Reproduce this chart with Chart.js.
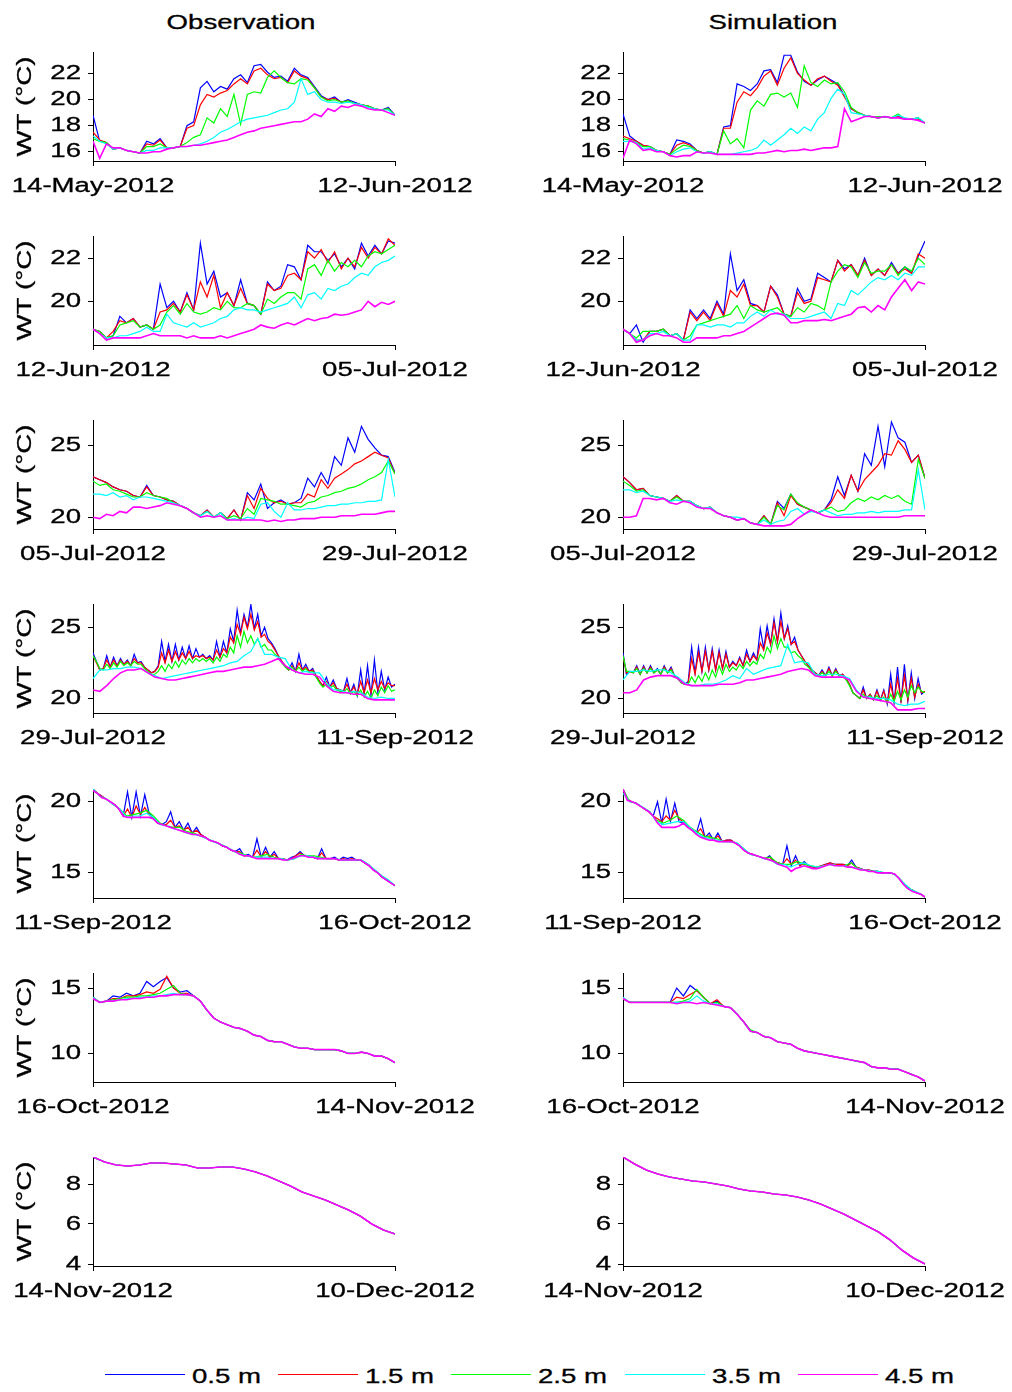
<!DOCTYPE html>
<html>
<head>
<meta charset="utf-8">
<script src="https://cdn.jsdelivr.net/npm/chart.js@4.4.1/dist/chart.umd.min.js"></script>
<style>
  body { margin: 0; background: #fff; }
  #page { position: relative; width: 1012px; height: 1392px; overflow: hidden; background: #fff;
          font-family: "Liberation Sans", Arial, sans-serif; }
  #page canvas { position: absolute; }
  .title { position: absolute; font-size: 20px; line-height: 20px; white-space: nowrap; color: #000;
           -webkit-text-stroke: 0.3px #000; transform: translate(-50%, -50%) scaleX(1.38); }
  .legline { position: absolute; height: 1px; width: 80px; }
  .legtxt { position: absolute; font-size: 20px; line-height: 20px; white-space: nowrap; color: #000;
            -webkit-text-stroke: 0.3px #000; transform-origin: 0 50%; transform: translateY(-50%) scaleX(1.38); }
</style>
</head>
<body>
<div id="page">
  <div class="title" style="left:241px;top:22px">Observation</div>
  <div class="title" style="left:773px;top:22px">Simulation</div>
</div>
<script>
const depths = ["0.5 m", "1.5 m", "2.5 m", "3.5 m", "4.5 m"];
const depthColors = ["#0000ff", "#ff0000", "#00ff00", "#00ffff", "#ff00ff"];

// x tick labels (first / last day of each row) and length of each period in days
const startDates = ["14-May-2012", "12-Jun-2012", "05-Jul-2012", "29-Jul-2012", "11-Sep-2012", "16-Oct-2012", "14-Nov-2012"];
const endDates = ["12-Jun-2012", "05-Jul-2012", "29-Jul-2012", "11-Sep-2012", "16-Oct-2012", "14-Nov-2012", "10-Dec-2012"];
const spanDays = [29, 23, 24, 44, 35, 29, 26];

// y ticks and ranges of each row
const yTicks = [[16, 18, 20, 22], [20, 22], [20, 25], [20, 25], [15, 20], [10, 15], [4, 6, 8]];
const yMin = [15.29, 17.97, 19.18, 18.98, 13.23, 7.82, 3.9];
const yMax = [23.65, 23.03, 26.74, 26.63, 20.9, 16.15, 9.35];

// water temperature, evenly spaced over each period; order 0.5, 1.5, 2.5, 3.5, 4.5 m
const obsMayJun = [
  [18.8,16.8,16.7,16.2,16.3,16.1,16.0,15.9,16.8,16.6,17.0,16.3,16.3,16.4,18.0,18.3,20.9,21.4,20.6,21.0,20.8,21.6,21.9,21.3,22.6,22.7,22.1,21.7,21.8,21.4,22.4,21.9,21.7,21.0,20.3,20.0,20.2,19.8,20.0,19.8,19.6,19.5,19.3,19.2,19.4,18.8],
  [17.5,16.9,16.7,16.2,16.3,16.1,16.0,15.9,16.6,16.5,16.9,16.3,16.3,16.4,17.8,18.0,19.6,20.4,20.2,20.5,20.7,21.2,21.6,21.2,22.2,22.4,21.9,21.6,21.7,21.3,22.2,21.8,21.6,20.9,20.2,20.0,20.1,19.8,19.9,19.7,19.6,19.5,19.3,19.2,19.3,18.8],
  [17.0,16.8,16.7,16.2,16.3,16.1,16.0,15.9,16.4,16.4,16.6,16.3,16.3,16.4,16.7,17.1,17.3,18.6,18.2,19.3,18.7,20.4,18.1,20.4,20.6,20.5,21.7,22.2,21.7,21.3,21.2,21.6,21.5,20.9,20.2,19.9,20.0,19.8,19.9,19.7,19.6,19.5,19.3,19.2,19.3,18.8],
  [17.2,16.8,16.6,16.2,16.3,16.1,16.0,15.9,16.1,16.1,16.3,16.3,16.3,16.4,16.4,16.5,16.6,16.8,17.1,17.5,17.7,18.0,18.3,18.5,18.6,18.7,18.8,19.0,19.2,19.3,19.8,21.6,20.4,20.6,20.0,19.8,19.8,19.7,19.8,19.7,19.6,19.4,19.3,19.2,19.2,18.8],
  [16.8,15.5,16.6,16.3,16.3,16.1,16.0,15.9,15.9,16.0,16.0,16.2,16.3,16.4,16.4,16.5,16.5,16.6,16.7,16.8,16.9,17.1,17.3,17.5,17.6,17.8,17.9,18.0,18.1,18.2,18.3,18.3,18.5,18.9,18.7,19.3,19.1,19.5,19.4,19.6,19.5,19.3,19.2,19.2,19.0,18.8]
];
const simMayJun = [
  [18.9,17.2,16.8,16.5,16.4,16.1,16.0,15.8,16.9,16.8,16.6,16.1,15.9,16.0,15.8,17.9,18.0,21.2,21.0,20.7,21.2,22.2,22.3,21.3,23.4,23.4,22.1,21.4,21.1,21.5,21.8,21.5,21.2,20.3,19.3,19.0,18.8,18.7,18.6,18.7,18.6,18.8,18.5,18.5,18.6,18.2],
  [17.2,17.0,16.8,16.5,16.4,16.1,16.0,15.8,16.5,16.7,16.5,16.1,15.9,16.0,15.8,17.8,17.8,19.8,20.6,20.3,20.9,21.8,22.2,21.1,22.4,23.2,22.0,21.5,21.1,21.6,21.8,21.4,21.1,20.2,19.3,19.0,18.8,18.7,18.6,18.7,18.6,18.7,18.5,18.5,18.5,18.2],
  [17.0,16.9,16.7,16.4,16.4,16.1,16.0,15.8,16.2,16.5,16.4,16.1,15.9,16.0,15.8,17.6,16.6,17.0,16.3,19.2,19.9,19.5,20.4,20.5,20.2,20.5,19.4,22.6,21.3,21.0,21.5,21.2,21.3,20.6,19.4,19.0,18.8,18.7,18.7,18.7,18.6,18.9,18.5,18.5,18.6,18.2],
  [16.8,16.8,16.7,16.2,16.3,16.1,16.0,15.7,16.0,16.2,16.3,16.0,15.9,16.0,15.8,15.8,15.8,15.9,16.0,16.1,16.3,16.9,16.5,16.9,17.3,17.8,17.4,17.9,17.6,18.5,19.0,20.1,20.8,20.4,19.0,18.9,18.8,18.7,18.6,18.7,18.6,18.8,18.6,18.5,18.6,18.2],
  [15.5,16.9,16.6,16.1,16.2,16.0,16.0,15.7,15.6,15.7,15.7,16.0,15.9,15.9,15.8,15.8,15.8,15.8,15.8,15.8,15.9,15.9,16.0,16.1,16.0,16.1,16.1,16.2,16.1,16.2,16.3,16.3,16.4,19.3,18.3,18.5,18.7,18.7,18.6,18.7,18.6,18.6,18.5,18.5,18.4,18.2]
];

const obsJunJul = [
  [18.7,18.6,18.3,18.4,19.3,19.0,19.2,18.8,18.9,18.7,20.8,19.7,20.0,19.5,20.4,19.6,22.7,20.8,21.4,20.2,20.4,19.8,21.0,19.9,19.8,19.4,20.9,20.5,20.7,21.7,21.6,21.0,22.6,22.3,22.3,21.9,22.2,21.6,22.0,21.5,22.7,22.1,22.6,22.2,22.8,22.7],
  [18.7,18.6,18.3,18.6,19.1,19.0,19.2,18.8,18.9,18.7,19.5,19.6,19.9,19.5,20.3,19.6,20.9,20.2,21.2,19.7,20.4,19.8,20.6,19.9,19.8,19.4,20.8,20.5,20.6,21.2,21.3,21.0,22.3,22.0,22.4,21.8,22.3,21.5,22.0,21.6,22.5,22.0,22.5,22.2,22.9,22.6],
  [18.7,18.6,18.3,18.4,18.9,19.0,19.1,18.8,18.9,18.7,18.9,19.5,19.8,19.4,19.9,19.5,19.4,19.5,19.7,19.6,20.0,19.7,19.7,19.9,19.8,19.4,20.1,19.9,20.2,20.4,20.4,20.1,21.5,21.7,21.2,21.9,21.4,21.8,21.6,21.9,21.6,22.1,22.3,22.2,22.4,22.6],
  [18.7,18.5,18.3,18.3,18.4,18.4,18.5,18.6,18.8,18.6,18.6,19.4,19.0,18.9,18.8,19.0,18.8,18.9,19.0,19.2,19.3,19.6,19.7,19.6,19.6,19.5,19.6,19.7,19.8,19.9,20.2,19.7,20.3,20.4,20.1,20.6,20.5,20.7,20.8,21.1,21.3,21.2,21.6,21.8,21.9,22.1],
  [18.7,18.5,18.2,18.3,18.3,18.3,18.3,18.3,18.4,18.5,18.4,18.4,18.4,18.4,18.3,18.4,18.3,18.3,18.3,18.4,18.3,18.4,18.5,18.6,18.7,18.9,18.8,18.75,18.9,19.0,18.9,19.05,19.2,19.1,19.2,19.25,19.4,19.35,19.4,19.5,19.6,20.0,19.75,19.95,19.85,20.0]
];
const simJunJul = [
  [18.7,18.5,18.9,18.1,18.6,18.6,18.7,18.4,18.5,18.2,19.6,19.2,19.6,19.2,20.0,19.4,22.2,20.5,21.0,19.9,19.8,19.5,20.7,20.3,19.4,19.3,20.6,20.0,20.1,21.3,21.1,20.9,21.9,21.5,21.7,21.2,22.0,21.2,21.5,21.2,21.8,21.3,21.6,21.3,22.1,22.8],
  [18.7,18.5,18.2,18.2,18.6,18.6,18.7,18.4,18.5,18.2,19.5,19.1,19.5,19.1,19.9,19.3,20.5,20.2,20.8,19.8,19.8,19.5,20.7,20.2,19.4,19.3,20.4,19.9,20.0,21.1,21.0,20.9,21.9,21.4,21.7,21.2,21.9,21.2,21.5,21.2,21.7,21.3,21.5,21.3,22.2,22.0],
  [18.7,18.5,18.3,18.6,18.6,18.6,18.7,18.4,18.5,18.2,18.4,18.9,19.0,19.1,19.2,19.3,19.4,19.8,19.2,19.8,19.6,19.5,19.6,19.7,19.4,19.3,19.7,19.5,19.9,19.8,19.6,20.9,21.4,21.7,21.6,21.1,21.8,21.3,21.4,21.4,21.7,21.2,21.6,21.4,22.0,21.7],
  [18.7,18.5,18.2,18.2,18.5,18.5,18.6,18.4,18.5,18.2,18.2,18.9,18.9,18.8,18.9,18.9,18.8,19.0,19.0,19.3,19.5,19.3,19.6,19.4,19.4,19.2,19.2,19.2,19.3,19.4,19.5,19.2,19.9,19.8,20.5,20.3,20.6,20.9,21.1,21.0,21.2,21.0,21.3,21.2,21.6,21.6],
  [18.7,18.5,18.1,18.2,18.4,18.5,18.4,18.4,18.3,18.1,18.1,18.3,18.3,18.3,18.3,18.4,18.4,18.5,18.6,18.8,19.0,19.2,19.4,19.45,19.35,19.0,19.0,19.1,19.1,19.1,19.15,19.1,19.2,19.3,19.4,19.7,19.75,19.5,19.8,19.6,20.2,20.6,21.0,20.5,20.9,20.8]
];

const obsJul = [
  [22.8,22.6,22.4,22.1,21.9,21.8,21.5,21.4,22.2,21.5,21.4,21.2,21.1,20.8,20.6,20.3,20.1,20.5,20.0,20.3,19.9,20.5,19.8,21.7,21.2,22.3,20.6,21.0,21.2,20.9,21.0,21.3,22.7,22.1,23.1,22.3,24.2,23.6,25.5,24.5,26.3,25.4,24.8,24.3,24.2,23.1],
  [22.8,22.6,22.4,22.1,21.9,21.8,21.5,21.4,22.1,21.5,21.4,21.2,21.1,20.8,20.6,20.3,20.1,20.5,20.0,20.3,19.9,20.5,19.8,21.5,20.6,22.0,21.3,21.0,21.1,20.9,21.0,21.0,21.6,21.4,22.6,22.0,22.7,23.0,23.3,23.7,23.9,24.2,24.5,24.3,24.1,23.0],
  [22.5,22.2,22.3,21.9,21.8,21.6,21.4,21.4,21.7,21.5,21.4,21.3,21.0,20.8,20.6,20.3,20.1,20.4,20.0,20.3,19.9,20.1,19.9,20.6,20.2,21.3,21.2,21.1,20.9,20.9,20.8,20.7,21.0,21.1,21.4,21.5,21.7,21.8,22.0,22.1,22.3,22.6,22.8,23.1,23.9,23.0],
  [21.6,21.6,21.5,21.7,21.4,21.5,21.2,21.4,21.4,21.3,21.2,21.1,21.0,20.8,20.6,20.3,20.1,20.4,20.0,20.3,19.8,19.9,19.8,20.0,19.9,20.9,21.0,20.4,20.0,21.0,20.5,20.5,20.6,20.6,20.7,20.8,20.8,20.9,20.9,21.0,21.0,21.1,21.1,21.2,24.0,21.4],
  [20.0,19.9,20.2,20.1,20.4,20.3,20.7,20.7,20.6,20.7,20.8,21.0,20.9,20.8,20.6,20.3,20.0,20.1,20.0,20.1,19.8,19.8,19.8,19.8,19.8,19.8,19.7,19.8,19.7,19.8,19.8,19.9,19.9,19.9,20.0,20.0,20.0,20.1,20.1,20.1,20.2,20.2,20.2,20.3,20.4,20.4]
];
const simJul = [
  [22.8,22.4,21.9,22.0,21.5,21.4,21.3,21.1,21.5,21.1,21.1,20.8,20.6,20.7,20.3,20.1,20.0,19.8,19.9,19.6,19.5,20.1,19.5,21.1,20.6,21.6,20.9,20.7,20.5,20.3,20.5,21.2,22.8,21.5,22.9,21.8,24.4,23.6,26.3,23.5,26.6,25.5,25.2,23.8,24.3,22.7],
  [22.8,22.4,21.9,22.0,21.5,21.4,21.3,21.1,21.5,21.1,21.1,20.8,20.6,20.7,20.3,20.1,20.0,19.8,19.9,19.6,19.5,20.1,19.5,21.0,20.1,21.5,20.9,20.7,20.5,20.3,20.5,21.0,21.9,21.3,22.9,21.8,22.6,23.1,23.6,24.4,24.3,25.3,24.7,23.8,24.3,22.7],
  [22.5,22.2,21.8,21.9,21.5,21.4,21.3,21.1,21.4,21.1,21.1,20.8,20.6,20.7,20.3,20.1,20.0,19.8,19.9,19.6,19.5,20.0,19.5,20.8,20.5,21.6,21.0,20.7,20.5,20.3,20.5,20.7,20.4,20.5,21.0,21.3,21.1,21.4,21.2,21.5,21.3,21.5,21.1,20.9,24.0,22.7],
  [21.9,21.9,21.7,21.8,21.5,21.4,21.3,21.1,21.2,21.1,21.1,20.8,20.6,20.7,20.3,20.1,20.0,20.0,19.9,19.6,19.5,19.8,19.5,19.7,19.8,20.4,20.6,20.2,20.4,20.3,20.5,20.3,20.1,20.2,20.2,20.3,20.3,20.4,20.3,20.4,20.4,20.4,20.5,20.5,23.3,20.5],
  [20.0,20.0,20.1,21.3,21.3,21.2,21.3,21.0,20.9,21.1,21.0,20.7,20.6,20.6,20.3,20.1,20.0,19.8,19.9,19.6,19.5,19.4,19.4,19.4,19.4,19.5,19.9,20.2,20.5,20.3,20.1,20.0,20.0,20.0,20.0,20.0,20.0,20.0,20.0,20.0,20.0,20.0,20.1,20.1,20.1,20.1]
];

const obsAugSep = [
  [23.2,22.6,22.0,22.1,23.0,22.2,22.9,22.3,22.8,22.4,22.7,22.3,23.1,22.5,22.6,22.2,22.0,21.8,21.9,22.3,24.0,22.6,23.8,22.6,23.8,22.7,23.6,22.8,23.7,22.8,23.5,22.9,23.1,22.8,23.0,22.7,24.0,22.9,24.0,23.2,24.9,24.0,26.2,24.6,25.9,25.0,26.6,24.9,25.9,24.4,25.0,24.2,23.9,23.5,23.0,22.6,22.3,22.0,22.5,21.9,23.1,22.0,22.4,21.9,22.1,21.6,21.2,20.9,21.5,20.8,21.3,20.7,20.6,20.5,21.4,20.4,21.0,20.2,22.0,20.3,22.3,20.2,22.7,20.4,21.9,20.6,21.5,20.8,21.0],
  [23.0,22.5,22.0,22.1,22.7,22.2,22.7,22.3,22.7,22.4,22.6,22.3,22.8,22.5,22.5,22.2,22.0,21.8,21.9,22.2,23.2,22.5,23.4,22.6,23.3,22.7,23.2,22.8,23.3,22.8,23.0,22.9,23.0,22.8,22.9,22.7,23.4,22.9,23.5,23.2,24.3,23.9,25.2,24.5,25.7,24.9,25.9,24.8,25.4,24.3,24.5,24.0,23.8,23.4,23.0,22.6,22.3,22.0,22.3,21.9,22.5,22.0,22.2,21.9,22.0,21.6,21.2,20.9,21.2,20.8,21.1,20.7,20.6,20.5,21.0,20.4,20.8,20.3,21.2,20.4,21.3,20.4,21.4,20.6,21.2,20.7,21.1,20.9,20.9],
  [23.0,22.6,22.1,22.0,22.4,22.1,22.5,22.2,22.6,22.3,22.5,22.3,22.6,22.4,22.4,22.1,21.9,21.7,21.7,21.9,22.3,21.9,22.4,22.1,22.6,22.2,22.7,22.4,22.8,22.5,22.8,22.6,22.8,22.6,22.8,22.5,22.9,22.6,23.1,22.9,23.6,23.2,24.4,23.6,24.7,23.9,24.4,23.8,24.2,23.6,23.8,23.4,23.4,23.1,22.9,22.5,22.2,22.0,22.2,21.9,22.2,21.9,22.1,21.8,21.9,21.5,21.1,20.8,21.0,20.7,20.9,20.6,20.5,20.4,20.7,20.3,20.5,20.2,20.6,20.1,20.5,20.0,20.6,20.2,20.8,20.4,20.9,20.5,20.6],
  [21.4,22.0,22.0,22.1,22.1,22.2,22.2,22.1,21.8,21.6,21.4,21.5,21.6,21.7,21.8,21.9,22.0,22.1,22.2,22.3,22.5,22.6,23.0,23.3,24.2,23.1,23.1,22.9,22.8,22.0,21.8,21.9,21.8,21.8,21.1,20.6,20.6,20.4,20.5,20.4,20.1,20.0,20.1,20.0,20.0],
  [20.6,20.5,20.9,21.4,21.8,22.0,22.0,22.1,21.8,21.5,21.4,21.3,21.3,21.4,21.5,21.6,21.7,21.8,21.9,21.9,22.0,22.1,22.2,22.2,22.3,22.4,22.6,22.8,22.3,22.0,21.8,21.7,21.7,21.5,20.9,20.5,20.4,20.4,20.3,20.3,20.0,19.9,19.9,19.9,19.9]
];
const simAugSep = [
  [23.2,21.7,21.9,21.8,22.3,21.7,22.3,21.8,22.3,21.8,22.1,21.7,22.3,21.8,22.2,21.6,21.4,21.1,21.0,21.2,23.6,21.8,23.6,21.9,23.6,22.0,23.5,22.0,23.4,22.1,23.3,22.2,22.6,22.3,22.9,22.3,23.4,22.6,23.2,22.7,24.9,23.5,25.1,23.8,25.6,24.0,26.0,24.2,25.1,23.8,24.3,23.4,23.0,22.6,22.3,22.0,21.8,21.6,22.0,21.6,22.2,21.6,22.1,21.6,21.7,21.4,21.0,20.4,20.2,20.0,20.8,20.0,20.3,19.9,20.6,19.9,20.6,19.6,21.7,19.7,22.2,19.7,22.4,19.8,21.8,20.0,21.4,20.3,20.5],
  [23.0,21.8,21.9,21.8,22.2,21.7,22.2,21.8,22.2,21.8,22.0,21.7,22.2,21.8,22.1,21.6,21.4,21.1,21.0,21.1,22.8,21.7,23.2,21.9,23.3,22.0,23.3,22.0,23.2,22.1,23.1,22.2,22.5,22.3,22.8,22.3,23.1,22.6,23.0,22.7,23.9,23.4,24.6,23.8,25.3,24.0,25.4,24.2,24.9,23.8,24.0,23.4,23.0,22.6,22.3,22.0,21.8,21.6,21.9,21.6,22.1,21.6,22.0,21.6,21.7,21.4,21.0,20.4,20.2,20.0,20.6,20.0,20.3,19.9,20.5,19.9,20.5,19.7,21.0,19.8,21.4,19.8,21.6,19.9,21.4,20.1,21.0,20.4,20.5],
  [23.0,21.9,21.9,21.8,22.1,21.7,22.1,21.8,22.1,21.8,22.0,21.7,22.1,21.8,22.0,21.6,21.4,21.1,21.0,21.0,21.5,21.1,21.6,21.2,21.8,21.3,22.0,21.5,22.3,21.7,22.4,21.9,22.2,22.0,22.4,22.1,22.6,22.3,22.6,22.4,23.1,22.8,23.6,23.2,24.4,23.5,24.2,23.6,23.6,23.2,23.3,23.0,22.8,22.4,22.2,21.9,21.7,21.6,21.8,21.6,21.9,21.6,21.9,21.6,21.6,21.3,20.9,20.4,20.2,20.0,20.3,20.0,20.2,19.9,20.2,19.9,20.1,19.7,20.3,19.8,20.5,19.9,20.6,20.1,20.9,20.4,20.8,20.5,20.4],
  [21.3,21.9,21.9,22.0,21.9,22.0,22.0,21.8,21.5,21.1,20.9,20.9,21.0,21.0,21.1,21.3,21.6,21.4,22.1,21.7,21.9,22.1,22.2,22.3,23.8,22.5,22.6,22.5,21.7,21.6,21.7,21.7,21.6,21.4,20.6,20.1,20.1,20.0,20.0,19.9,19.6,19.5,19.6,19.6,19.8],
  [20.4,20.4,20.6,21.3,21.5,21.6,21.6,21.6,21.4,21.0,20.9,20.9,20.9,20.9,21.0,21.0,21.0,21.1,21.3,21.3,21.4,21.5,21.6,21.7,21.9,22.0,22.1,22.0,21.6,21.5,21.5,21.5,21.5,21.3,20.5,20.1,20.0,19.9,19.8,19.7,19.2,19.2,19.2,19.3,19.3]
];

const obsSepOct = [
  [20.9,20.6,20.4,20.2,20.0,19.8,19.5,19.0,20.7,18.9,20.7,19.0,20.5,19.2,18.8,18.5,18.4,18.6,19.3,18.2,18.6,18.0,18.5,17.8,18.2,17.7,17.5,17.3,17.2,17.1,16.9,16.8,16.6,16.5,16.7,16.2,16.3,16.1,17.4,16.1,16.8,16.1,16.5,16.0,16.0,15.9,16.1,16.2,16.5,16.2,16.2,16.1,16.0,16.7,16.0,16.0,16.1,15.9,16.1,16.0,16.1,15.9,15.9,15.7,15.5,15.2,15.0,14.7,14.5,14.3,14.1],
  [20.9,20.6,20.4,20.2,20.0,19.8,19.5,19.0,19.5,18.9,19.7,19.1,19.6,19.1,18.8,18.5,18.4,18.4,18.7,18.2,18.3,18.0,18.2,17.8,18.0,17.7,17.5,17.3,17.2,17.1,16.9,16.8,16.6,16.5,16.5,16.2,16.2,16.1,16.6,16.1,16.5,16.1,16.3,16.0,16.0,15.9,16.0,16.2,16.4,16.2,16.1,16.1,16.0,16.4,16.0,16.0,16.0,15.9,16.0,15.9,16.0,15.9,15.9,15.7,15.5,15.2,15.0,14.7,14.5,14.3,14.1],
  [20.9,20.4,20.2,19.8,19.5,19.0,19.1,19.2,19.4,19.0,18.5,18.3,18.2,18.2,17.9,17.8,17.6,17.4,17.2,17.0,16.8,16.5,16.4,16.2,16.1,16.2,16.3,16.1,16.0,15.9,16.0,16.3,16.2,16.2,16.1,16.0,16.0,15.9,15.9,15.9,15.9,15.6,15.2,14.8,14.5,14.1],
  [20.9,20.4,20.2,19.8,19.5,18.9,19.0,19.0,19.2,18.9,18.4,18.3,18.1,18.0,17.8,17.7,17.6,17.4,17.2,17.0,16.8,16.5,16.3,16.2,16.1,16.1,16.1,16.0,16.0,15.9,16.0,16.2,16.2,16.1,16.0,16.0,16.0,15.9,15.9,15.9,15.9,15.6,15.2,14.8,14.5,14.1],
  [20.8,20.6,20.3,20.2,20.0,19.8,19.5,19.0,18.9,18.9,18.9,18.9,18.9,18.9,18.8,18.5,18.4,18.3,18.2,18.1,18.0,17.9,17.8,17.7,17.7,17.6,17.5,17.3,17.2,17.1,16.9,16.8,16.6,16.5,16.3,16.2,16.2,16.1,16.0,16.0,16.0,16.0,16.0,16.0,15.9,15.9,16.0,16.1,16.2,16.2,16.1,16.1,16.0,16.0,16.0,16.0,16.0,15.9,15.9,15.9,15.9,15.9,15.9,15.7,15.5,15.2,15.0,14.7,14.5,14.3,14.1]
];
const simSepOct = [
  [20.9,20.2,20.0,19.9,19.7,19.5,19.3,19.0,20.0,18.5,20.2,18.6,19.9,18.6,18.5,18.3,18.0,17.8,18.8,17.5,17.8,17.3,17.8,17.2,17.3,17.3,17.1,16.9,16.6,16.4,16.3,16.2,16.1,16.0,16.2,15.8,15.7,15.6,16.9,15.5,16.2,15.5,15.8,15.5,15.4,15.4,15.5,15.6,15.7,15.6,15.6,15.6,15.5,15.9,15.4,15.3,15.2,15.2,15.1,15.1,15.0,15.0,15.0,14.9,14.6,14.2,13.9,13.8,13.6,13.5,13.3],
  [20.9,20.2,20.0,19.9,19.7,19.5,19.3,19.0,18.8,18.6,19.0,18.7,19.4,18.8,18.6,18.3,18.0,17.8,18.1,17.5,17.6,17.3,17.6,17.2,17.3,17.3,17.1,16.9,16.6,16.4,16.3,16.2,16.1,16.0,16.1,15.8,15.7,15.6,16.0,15.6,15.9,15.5,15.7,15.5,15.4,15.4,15.5,15.6,15.7,15.6,15.6,15.6,15.5,15.7,15.4,15.3,15.2,15.2,15.1,15.1,15.0,15.0,15.0,14.9,14.6,14.2,13.9,13.8,13.6,13.5,13.3],
  [20.9,20.0,19.9,19.6,19.3,18.7,18.5,18.7,19.0,18.7,18.2,17.9,17.6,17.5,17.4,17.2,17.2,17.1,16.7,16.3,16.2,16.0,16.1,15.7,15.6,15.6,15.8,15.6,15.5,15.4,15.5,15.6,15.5,15.5,15.7,15.3,15.2,15.1,15.1,15.0,15.0,14.7,14.2,13.8,13.6,13.3],
  [20.6,20.0,19.9,19.6,19.3,18.6,18.4,18.5,18.6,18.6,18.2,17.8,17.5,17.4,17.3,17.2,17.2,17.1,16.7,16.3,16.2,16.0,15.9,15.6,15.6,15.4,15.6,15.7,15.5,15.4,15.5,15.6,15.5,15.5,15.4,15.3,15.2,15.1,15.1,15.0,15.0,14.7,14.2,13.8,13.6,13.3],
  [20.9,20.1,20.0,19.9,19.7,19.5,19.3,19.0,18.5,18.2,18.2,18.2,18.2,18.3,18.5,18.2,18.0,17.7,17.5,17.4,17.3,17.3,17.2,17.2,17.2,17.2,17.1,16.9,16.6,16.4,16.3,16.2,16.1,16.0,15.9,15.8,15.6,15.5,15.4,15.1,15.3,15.4,15.5,15.4,15.3,15.3,15.4,15.5,15.6,15.5,15.5,15.5,15.4,15.4,15.3,15.2,15.2,15.1,15.1,15.0,15.0,15.0,15.0,14.9,14.6,14.2,13.9,13.7,13.6,13.5,13.3]
];

const obsOctNov = [
  [14.3,13.9,14.0,14.4,14.3,14.6,14.4,14.6,15.5,15.1,15.5,15.8,15.0,14.7,14.8,14.4,14.0,13.3,12.7,12.4,12.2,12.0,11.9,11.7,11.4,11.3,11.0,10.9,10.9,10.7,10.5,10.4,10.4,10.3,10.3,10.3,10.3,10.2,10.0,10.0,10.1,10.0,9.8,9.8,9.6,9.3],
  [14.3,13.9,14.0,14.2,14.2,14.4,14.4,14.5,14.7,14.6,14.9,15.9,15.0,14.6,14.6,14.4,14.0,13.3,12.7,12.4,12.2,12.0,11.9,11.7,11.4,11.3,11.0,10.9,10.9,10.7,10.5,10.4,10.4,10.3,10.3,10.3,10.3,10.2,10.0,10.0,10.1,10.0,9.8,9.8,9.6,9.3],
  [14.3,13.9,14.0,14.1,14.2,14.3,14.3,14.4,14.4,14.5,14.6,14.9,15.2,14.6,14.5,14.4,14.0,13.3,12.7,12.4,12.2,12.0,11.9,11.7,11.4,11.3,11.0,10.9,10.9,10.7,10.5,10.4,10.4,10.3,10.3,10.3,10.3,10.2,10.0,10.0,10.1,10.0,9.8,9.8,9.6,9.3],
  [14.3,13.9,14.0,14.0,14.1,14.2,14.2,14.3,14.3,14.4,14.4,14.5,14.6,14.5,14.5,14.4,14.0,13.3,12.7,12.4,12.2,12.0,11.9,11.7,11.4,11.3,11.0,10.9,10.9,10.7,10.5,10.4,10.4,10.3,10.3,10.3,10.3,10.2,10.0,10.0,10.1,10.0,9.8,9.8,9.6,9.3],
  [14.2,13.9,14.0,14.0,14.1,14.1,14.2,14.2,14.3,14.3,14.4,14.4,14.5,14.5,14.5,14.4,14.0,13.3,12.7,12.4,12.2,12.0,11.9,11.7,11.4,11.3,11.0,10.9,10.9,10.7,10.5,10.4,10.4,10.3,10.3,10.3,10.3,10.2,10.0,10.0,10.1,10.0,9.8,9.8,9.6,9.3]
];
const simOctNov = [
  [14.2,13.9,13.9,13.9,13.9,13.9,13.9,13.9,15.0,14.4,15.2,14.8,14.3,13.8,14.0,13.6,13.5,13.0,12.4,11.7,11.6,11.3,11.2,10.9,10.8,10.7,10.4,10.2,10.1,10.0,9.9,9.8,9.7,9.6,9.5,9.4,9.3,9.0,8.9,8.9,8.8,8.8,8.6,8.4,8.2,7.9],
  [14.2,13.9,13.9,13.9,13.9,13.9,13.9,13.9,14.3,14.2,14.5,14.8,14.3,13.8,14.1,13.6,13.5,13.0,12.4,11.7,11.6,11.3,11.2,10.9,10.8,10.7,10.4,10.2,10.1,10.0,9.9,9.8,9.7,9.6,9.5,9.4,9.3,9.0,8.9,8.9,8.8,8.8,8.6,8.4,8.2,7.9],
  [14.2,13.9,13.9,13.9,13.9,13.9,13.9,13.9,13.9,14.0,14.2,14.9,14.3,13.8,13.9,13.6,13.5,13.0,12.4,11.8,11.6,11.3,11.2,10.9,10.8,10.7,10.4,10.2,10.1,10.0,9.9,9.8,9.7,9.6,9.5,9.4,9.3,9.0,8.9,8.9,8.8,8.8,8.6,8.4,8.2,7.9],
  [14.3,13.9,13.9,13.9,13.9,13.9,13.9,13.9,13.9,13.9,14.0,14.4,14.0,13.8,13.8,13.6,13.5,13.0,12.4,11.7,11.6,11.3,11.2,10.9,10.8,10.7,10.4,10.2,10.1,10.0,9.9,9.8,9.7,9.6,9.5,9.4,9.3,9.0,8.9,8.9,8.8,8.8,8.6,8.4,8.2,7.9],
  [14.2,13.9,13.9,13.9,13.9,13.9,13.9,13.9,13.8,13.9,13.9,13.8,13.9,13.8,13.7,13.6,13.5,13.0,12.4,11.7,11.6,11.3,11.2,10.9,10.8,10.7,10.4,10.2,10.1,10.0,9.9,9.8,9.7,9.6,9.5,9.4,9.3,9.0,8.9,8.9,8.8,8.8,8.6,8.4,8.2,7.9]
];

// Nov-Dec: the water column is mixed, all depths read the same
const obsNovDecLine = [9.35,9.1,8.95,8.9,8.95,9.05,9.05,9.0,8.95,8.8,8.8,8.85,8.85,8.75,8.6,8.4,8.15,7.9,7.6,7.4,7.2,6.95,6.7,6.4,6.0,5.7,5.5];
const simNovDecLine = [9.35,9.0,8.7,8.5,8.35,8.25,8.15,8.1,8.0,7.9,7.75,7.65,7.6,7.5,7.45,7.35,7.2,7.0,6.75,6.5,6.2,5.9,5.6,5.2,4.7,4.3,4.0];
const obsNovDec = [obsNovDecLine, obsNovDecLine, obsNovDecLine, obsNovDecLine, obsNovDecLine];
const simNovDec = [simNovDecLine, simNovDecLine, simNovDecLine, simNovDecLine, simNovDecLine];

const obsRows = [obsMayJun, obsJunJul, obsJul, obsAugSep, obsSepOct, obsOctNov, obsNovDec];
const simRows = [simMayJun, simJunJul, simJul, simAugSep, simSepOct, simOctNov, simNovDec];

// layout
const panelTops = [52, 236, 420, 604, 789, 973, 1157];
const colLefts = [0, 530];
const STRETCH = 1.38;
const FONT = '20px "Liberation Sans", Arial, sans-serif';

function wideText(ctx, text, x, y, align) {
  const w = ctx.measureText(text).width * STRETCH;
  let x0 = x;
  if (align === "right") x0 = x - w;
  if (align === "center") x0 = x - w / 2;
  ctx.save();
  ctx.translate(x0, y);
  ctx.scale(STRETCH, 1);
  ctx.textAlign = "left";
  ctx.fillText(text, 0, 0);
  ctx.strokeText(text, 0, 0);
  ctx.restore();
}

// the figure's font is much wider than tall, so labels are drawn stretched
const wideLabels = {
  id: "wideLabels",
  afterDraw(chart, args, opts) {
    const ctx = chart.ctx;
    const area = chart.chartArea;
    const xs = chart.scales.x;
    const ys = chart.scales.y;
    ctx.save();
    ctx.font = FONT;
    ctx.fillStyle = "#000";
    ctx.strokeStyle = "#000";
    ctx.lineWidth = 0.3;
    ctx.textBaseline = "middle";
    ys.ticks.forEach((t) => {
      wideText(ctx, String(t.value), area.left - 12, ys.getPixelForValue(t.value), "right");
    });
    xs.ticks.forEach((t, i) => {
      wideText(ctx, opts.dates[i], xs.getPixelForValue(t.value), area.bottom + 25, "center");
    });
    if (opts.yTitle) {
      ctx.translate(25, (area.top + area.bottom) / 2);
      ctx.rotate(-Math.PI / 2);
      wideText(ctx, "WT (\u00B0C)", 0, 0, "center");
    }
    ctx.restore();
  },
};

const page = document.getElementById("page");

function makePanel(r, c, series) {
  const canvas = document.createElement("canvas");
  canvas.width = 482;
  canvas.height = 170;
  canvas.style.left = colLefts[c] + "px";
  canvas.style.top = panelTops[r] - 20 + "px";
  page.appendChild(canvas);

  const days = spanDays[r];
  const datasets = series.map((vals, d) => ({
    label: depths[d],
    data: vals.map((v, i) => ({ x: (i * days) / (vals.length - 1), y: v })),
    borderColor: depthColors[d],
    // deepest line is on top and a bit wider so overlapped lines stay magenta
    borderWidth: d === 4 ? 1.6 : 1.2,
    pointRadius: 0,
    fill: false,
    tension: 0,
    order: 4 - d,
  }));

  const axisGrid = { drawOnChartArea: false, drawTicks: true, tickLength: 5, color: "#000" };

  new Chart(canvas, {
    type: "line",
    data: { datasets: datasets },
    options: {
      responsive: false,
      animation: false,
      events: [],
      devicePixelRatio: 1,
      layout: { padding: { top: 20, right: 87, bottom: 0, left: 0 } },
      plugins: {
        legend: { display: false },
        tooltip: { enabled: false },
        wideLabels: { dates: [startDates[r], endDates[r]], yTitle: c === 0 },
      },
      scales: {
        x: {
          type: "linear",
          min: 0,
          max: days,
          afterBuildTicks: (s) => { s.ticks = [{ value: 0 }, { value: days }]; },
          afterFit: (s) => { s.height = 41; },
          ticks: { display: false },
          grid: axisGrid,
          border: { color: "#000", width: 1 },
        },
        y: {
          type: "linear",
          min: yMin[r],
          max: yMax[r],
          afterBuildTicks: (s) => { s.ticks = yTicks[r].map((v) => ({ value: v })); },
          afterFit: (s) => { s.width = 93; },
          ticks: { display: false },
          grid: axisGrid,
          border: { color: "#000", width: 1 },
        },
      },
    },
    plugins: [wideLabels],
  });
}

for (let r = 0; r < 7; r++) {
  makePanel(r, 0, obsRows[r]);
  makePanel(r, 1, simRows[r]);
}

// legend along the bottom
depths.forEach((name, i) => {
  const x = 105 + i * 173.2;
  const line = document.createElement("div");
  line.className = "legline";
  line.style.left = x + "px";
  line.style.top = "1374px";
  line.style.background = depthColors[i];
  page.appendChild(line);
  const txt = document.createElement("div");
  txt.className = "legtxt";
  txt.style.left = x + 87 + "px";
  txt.style.top = "1376px";
  txt.textContent = name;
  page.appendChild(txt);
});
</script>
</body>
</html>
